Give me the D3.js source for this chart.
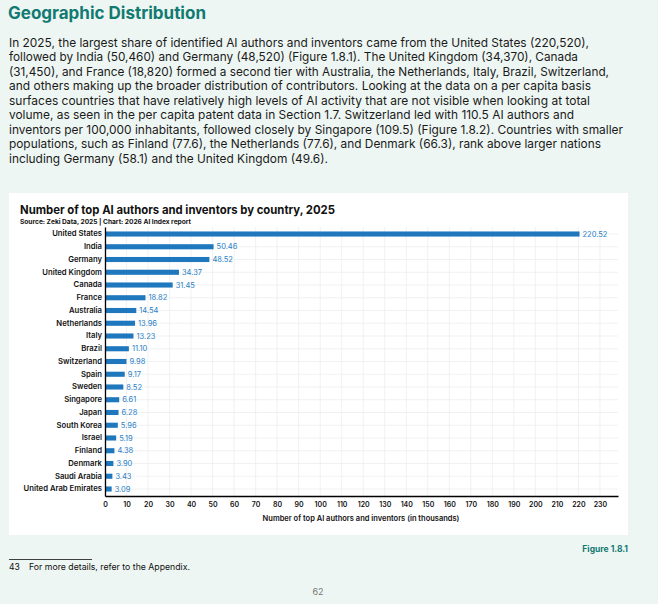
<!DOCTYPE html>
<html>
<head>
<meta charset="utf-8">
<script src="https://cdn.jsdelivr.net/npm/d3@7"></script>
<style>
  body { margin: 0; background: #eef6f3; }
  svg { display: block; font-family: "Inter", "Noto Sans", sans-serif; }
</style>
</head>
<body>
<div id="chart"></div>
<script>
// Data
var countries = ["United States", "India", "Germany", "United Kingdom", "Canada", "France",
  "Australia", "Netherlands", "Italy", "Brazil", "Switzerland", "Spain", "Sweden",
  "Singapore", "Japan", "South Korea", "Israel", "Finland", "Denmark", "Saudi Arabia",
  "United Arab Emirates"];
var authors = [220.52, 50.46, 48.52, 34.37, 31.45, 18.82, 14.54, 13.96, 13.23, 11.10,
  9.98, 9.17, 8.52, 6.61, 6.28, 5.96, 5.19, 4.38, 3.90, 3.43, 3.09];
var xTicks = d3.range(0, 240, 10);

var paragraph = [
  "In 2025, the largest share of identified AI authors and inventors came from the United States (220,520),",
  "followed by India (50,460) and Germany (48,520) (Figure 1.8.1). The United Kingdom (34,370), Canada",
  "(31,450), and France (18,820) formed a second tier with Australia, the Netherlands, Italy, Brazil, Switzerland,",
  "and others making up the broader distribution of contributors. Looking at the data on a per capita basis",
  "surfaces countries that have relatively high levels of AI activity that are not visible when looking at total",
  "volume, as seen in the per capita patent data in Section 1.7. Switzerland led with 110.5 AI authors and",
  "inventors per 100,000 inhabitants, followed closely by Singapore (109.5) (Figure 1.8.2). Countries with smaller",
  "populations, such as Finland (77.6), the Netherlands (77.6), and Denmark (66.3), rank above larger nations",
  "including Germany (58.1) and the United Kingdom (49.6)."
];
// measured line widths in the reference
var lineWidths = [580, 569, 600, 582, 581, 565, 614, 592, 319];

var svgWidth = 658;
var svgHeight = 604;

var svg = d3.select("#chart")
  .append("svg")
  .attr("width", svgWidth)
  .attr("height", svgHeight);

// Heading
svg.append("text")
  .attr("x", 8)
  .attr("y", 19)
  .attr("fill", "#117a72")
  .style("font-size", "17px")
  .style("font-weight", "700")
  .text("Geographic Distribution");

// Body text
svg.append("g")
  .selectAll("text")
  .data(paragraph)
  .enter()
  .append("text")
  .attr("x", 9)
  .attr("y", (d, i) => 46.7 + i * 14.5)
  .attr("fill", "#1a1a1a")
  .attr("textLength", (d, i) => lineWidths[i])
  .attr("lengthAdjust", "spacingAndGlyphs")
  .style("font-size", "12px")
  .text(d => d);

// White card
svg.append("rect")
  .attr("x", 9)
  .attr("y", 193)
  .attr("width", 619)
  .attr("height", 342)
  .attr("fill", "#ffffff");

svg.append("text")
  .attr("x", 20)
  .attr("y", 214)
  .attr("fill", "#111")
  .attr("textLength", 315)
  .attr("lengthAdjust", "spacingAndGlyphs")
  .style("font-size", "11.8px")
  .style("font-weight", "700")
  .text("Number of top AI authors and inventors by country, 2025");

svg.append("text")
  .attr("x", 20)
  .attr("y", 223.5)
  .attr("fill", "#111")
  .attr("textLength", 171)
  .attr("lengthAdjust", "spacingAndGlyphs")
  .style("font-size", "6.4px")
  .style("font-weight", "700")
  .text("Source: Zeki Data, 2025 | Chart: 2026 AI Index report");

// Chart area
var margin = { left: 105, top: 227, right: 618, bottom: 496 };

var x = d3.scaleLinear()
  .domain([0, 238.4])
  .range([margin.left, margin.right]);

var y = d3.scaleBand()
  .domain(countries)
  .range([margin.top, margin.bottom])
  .paddingInner(0.6)
  .paddingOuter(0.35);

// Grid
svg.append("g")
  .selectAll("line")
  .data(xTicks)
  .enter()
  .append("line")
  .attr("x1", d => x(d))
  .attr("x2", d => x(d))
  .attr("y1", margin.top)
  .attr("y2", margin.bottom)
  .attr("stroke", "#eeeeee")
  .attr("stroke-width", 0.8);

svg.append("g")
  .selectAll("line")
  .data(countries)
  .enter()
  .append("line")
  .attr("x1", margin.left)
  .attr("x2", margin.right)
  .attr("y1", d => y(d) + y.bandwidth() / 2)
  .attr("y2", d => y(d) + y.bandwidth() / 2)
  .attr("stroke", "#eeeeee")
  .attr("stroke-width", 0.8);

// Bars
svg.append("g")
  .selectAll("rect")
  .data(authors)
  .enter()
  .append("rect")
  .attr("x", x(0))
  .attr("y", (d, i) => y(countries[i]))
  .attr("width", d => x(d) - x(0))
  .attr("height", y.bandwidth())
  .attr("fill", "#1f77bd");

// Value labels
svg.append("g")
  .selectAll("text")
  .data(authors)
  .enter()
  .append("text")
  .attr("x", d => x(d) + 3)
  .attr("y", (d, i) => y(countries[i]) + y.bandwidth() / 2)
  .attr("dy", "0.35em")
  .attr("fill", "#2a7fc8")
  .style("font-size", "7.5px")
  .text(d => d.toFixed(2));

// Y axis
var yAxis = svg.append("g")
  .attr("transform", `translate(${margin.left}, 0)`)
  .call(d3.axisLeft(y).tickSize(0).tickPadding(3));
yAxis.select(".domain").attr("stroke", "#000").attr("stroke-width", 1.3);
yAxis.selectAll("text")
  .attr("fill", "#111")
  .style("font-size", "7.7px")
  .style("font-weight", "600")
  .style("font-family", "Inter, sans-serif");

// X axis
var xAxis = svg.append("g")
  .attr("transform", `translate(0, ${margin.bottom})`)
  .call(d3.axisBottom(x).tickValues(xTicks).tickSize(0).tickPadding(6));
xAxis.select(".domain").attr("stroke", "#000").attr("stroke-width", 1.3);
xAxis.selectAll("text")
  .attr("fill", "#111")
  .style("font-size", "7px")
  .style("font-weight", "600")
  .style("font-family", "Inter, sans-serif");

svg.append("text")
  .attr("x", 361)
  .attr("y", 521)
  .attr("text-anchor", "middle")
  .attr("fill", "#111")
  .style("font-size", "7.5px")
  .style("font-weight", "600")
  .text("Number of top AI authors and inventors (in thousands)");

// Figure label
svg.append("text")
  .attr("x", 628)
  .attr("y", 552)
  .attr("text-anchor", "end")
  .attr("fill", "#117a72")
  .style("font-size", "8.5px")
  .style("font-weight", "700")
  .text("Figure 1.8.1");

// Footnote
svg.append("line")
  .attr("x1", 9)
  .attr("x2", 92)
  .attr("y1", 559.5)
  .attr("y2", 559.5)
  .attr("stroke", "#111")
  .attr("stroke-width", 0.8);

svg.append("text")
  .attr("x", 9)
  .attr("y", 569.5)
  .attr("fill", "#111")
  .style("font-size", "8.5px")
  .text("43");

svg.append("text")
  .attr("x", 29)
  .attr("y", 569.5)
  .attr("fill", "#111")
  .attr("textLength", 161)
  .attr("lengthAdjust", "spacingAndGlyphs")
  .style("font-size", "8.5px")
  .text("For more details, refer to the Appendix.");

svg.append("text")
  .attr("x", 318)
  .attr("y", 594.5)
  .attr("text-anchor", "middle")
  .attr("fill", "#777")
  .style("font-size", "9px")
  .text("62");
</script>
</body>
</html>
